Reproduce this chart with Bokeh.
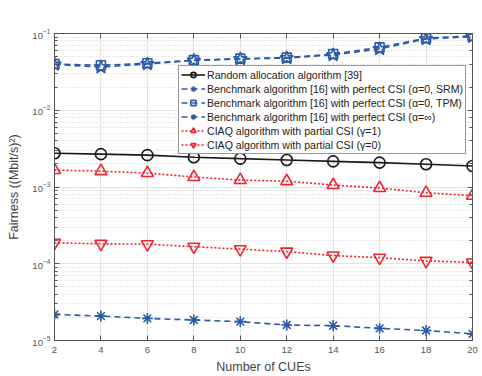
from bokeh.plotting import figure
from bokeh.models import LinearAxis, LogAxis, FixedTicker, Range1d, Legend, LegendItem
from bokeh.embed import file_html
from bokeh.resources import INLINE

cues = [2, 4, 6, 8, 10, 12, 14, 16, 18, 20]
random_alloc = [2.75e-3, 2.68e-3, 2.6e-3, 2.44e-3, 2.34e-3, 2.25e-3, 2.16e-3, 2.08e-3, 1.98e-3, 1.88e-3]
bench_srm = [3.95e-2, 3.65e-2, 4.0e-2, 4.45e-2, 4.65e-2, 4.8e-2, 5.25e-2, 6.3e-2, 8.5e-2, 9.1e-2]
bench_tpm = [4.0e-2, 3.85e-2, 4.1e-2, 4.5e-2, 4.7e-2, 4.85e-2, 5.4e-2, 6.6e-2, 8.7e-2, 9.3e-2]
bench_inf = [2.19e-5, 2.08e-5, 1.94e-5, 1.85e-5, 1.76e-5, 1.59e-5, 1.56e-5, 1.44e-5, 1.35e-5, 1.22e-5]
ciaq_g1 = [1.66e-3, 1.61e-3, 1.52e-3, 1.35e-3, 1.23e-3, 1.19e-3, 1.06e-3, 9.7e-4, 8.4e-4, 7.7e-4]
ciaq_g0 = [1.87e-4, 1.82e-4, 1.8e-4, 1.67e-4, 1.55e-4, 1.44e-4, 1.28e-4, 1.2e-4, 1.09e-4, 1.04e-4]

labels = [
    "Random allocation algorithm [39]",
    "Benchmark algorithm [16] with perfect CSI (\u03b1=0, SRM)",
    "Benchmark algorithm [16] with perfect CSI (\u03b1=0, TPM)",
    "Benchmark algorithm [16] with perfect CSI (\u03b1=\u221e)",
    "CIAQ algorithm with partial CSI (\u03b3=1)",
    "CIAQ algorithm with partial CSI (\u03b3=0)",
]

BLUE = "#2b5ba8"
RED = "#f5222d"
BLACK = "#1a1a1a"
AXC = "#555555"
FONT = "Liberation Sans"

p = figure(width=482, height=376, y_axis_type="log",
           x_range=Range1d(2, 20), y_range=Range1d(1e-5, 1e-1),
           output_backend="svg", toolbar_location=None,
           min_border_left=54, min_border_right=10, min_border_top=33, min_border_bottom=33)
p.background_fill_color = "white"
p.border_fill_color = "white"
p.outline_line_color = AXC

p.xaxis.ticker = FixedTicker(ticks=cues)
p.xgrid.ticker = FixedTicker(ticks=cues)

for ax in p.axis:
    ax.axis_line_color = AXC
    ax.major_tick_in = 5
    ax.major_tick_out = 0
    ax.minor_tick_in = 3
    ax.minor_tick_out = 0
    ax.major_tick_line_color = AXC
    ax.minor_tick_line_color = AXC
    ax.major_label_text_font = FONT
    ax.major_label_text_font_size = "9.5px"
    ax.major_label_text_color = "#555555"
    ax.axis_label_text_font = FONT
    ax.axis_label_text_font_size = "12.5px"
    ax.axis_label_text_font_style = "normal"
    ax.axis_label_text_color = "#444444"
p.xaxis.minor_tick_line_color = None
p.xaxis.major_label_standoff = 6
p.xaxis.axis_label_standoff = 4
p.yaxis.major_label_standoff = 4
p.yaxis.axis_label_standoff = 8
p.xaxis.axis_label = "Number of CUEs"
p.yaxis.axis_label = "Fairness ((Mbit/s)\u00b2)"

top = LinearAxis(ticker=FixedTicker(ticks=cues), major_label_text_color=None,
                 major_tick_in=5, major_tick_out=0, minor_tick_line_color=None,
                 axis_line_color=AXC, major_tick_line_color=AXC)
right = LogAxis(major_label_text_color=None, major_tick_in=5, major_tick_out=0,
                minor_tick_in=3, minor_tick_out=0, axis_line_color=AXC,
                major_tick_line_color=AXC, minor_tick_line_color=AXC)
p.add_layout(top, "above")
p.add_layout(right, "right")

p.xgrid.grid_line_color = "#e3e3e3"
p.ygrid.grid_line_color = "#e3e3e3"
p.ygrid.minor_grid_line_color = "#d0d0d0"
p.ygrid.minor_grid_line_dash = "1 2"

items = []
series = [
    (random_alloc, BLACK, "solid", "circle", 11),
    (bench_srm, BLUE, "dashed", "star", 14),
    (bench_tpm, BLUE, "dashed", "square", 9),
    (bench_inf, BLUE, "dashed", "asterisk", 11),
    (ciaq_g1, RED, "dotted", "triangle", 12),
    (ciaq_g0, RED, "dotted", "inverted_triangle", 12),
]
for (vals, col, dash, mk, sz), lab in zip(series, labels):
    ld = {"solid": "solid", "dashed": "6 4", "dotted": "2 2"}[dash]
    r1 = p.line(cues, vals, line_color=col, line_width=1.6, line_dash=ld)
    r2 = p.scatter(cues, vals, marker=mk, size=sz, line_color=col, fill_color=None, line_width=1.6)
    items.append(LegendItem(label=lab, renderers=[r1, r2]))

legend = Legend(items=items, location="top_left")
legend.label_text_font = FONT
legend.label_text_font_size = "10.6px"
legend.label_text_color = "#222222"
legend.glyph_height = 13
legend.glyph_width = 24
legend.label_height = 13
legend.spacing = 1
legend.padding = 2
legend.margin = 0
legend.label_standoff = 2
legend.border_line_color = "#333333"
legend.border_line_width = 1
legend.background_fill_alpha = 1
legend.location = (124, 186)
p.add_layout(legend)

open("out.html", "w").write(file_html(p, INLINE))
